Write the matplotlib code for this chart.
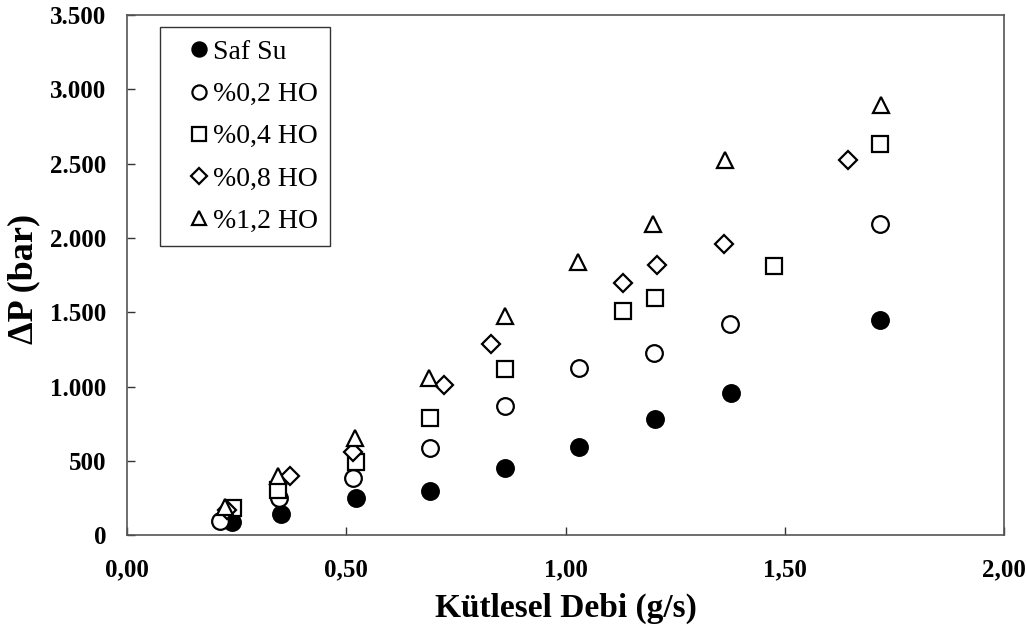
import matplotlib
matplotlib.use("Agg")
import matplotlib.pyplot as plt
from matplotlib.ticker import FuncFormatter, MultipleLocator

plt.rcParams['font.family'] = ['Liberation Serif', 'DejaVu Serif']

# Kütlesel debi (g/s) ve basınç düşümü (bar) ölçümleri
x_saf = [0.24, 0.352, 0.523, 0.690, 0.861, 1.030, 1.203, 1.377, 1.716]
y_saf = [87, 141, 249, 296, 451, 590, 781, 955, 1447]

x_02 = [0.212, 0.347, 0.516, 0.690, 0.861, 1.030, 1.201, 1.374, 1.717]
y_02 = [97, 249, 384, 585, 868, 1124, 1225, 1420, 2093]

x_04 = [0.242, 0.345, 0.523, 0.690, 0.861, 1.130, 1.203, 1.475, 1.717]
y_04 = [180, 303, 491, 787, 1117, 1508, 1595, 1810, 2631]

x_08 = [0.228, 0.372, 0.516, 0.722, 0.829, 1.130, 1.208, 1.361, 1.644]
y_08 = [172, 397, 559, 1009, 1285, 1696, 1817, 1958, 2524]

x_12 = [0.224, 0.345, 0.520, 0.688, 0.863, 1.028, 1.199, 1.363, 1.719]
y_12 = [190, 400, 653, 1057, 1474, 1837, 2093, 2524, 2894]

labels = ['Saf Su', '%0,2 HO', '%0,4 HO', '%0,8 HO', '%1,2 HO']

fig = plt.figure(figsize=(10.27, 6.34), dpi=100)
ax = fig.add_axes([0.1237, 0.156, 0.854, 0.82])

mk = dict(linestyle='none', markersize=12, markeredgewidth=1.6, markeredgecolor='black')
ax.plot(x_saf, y_saf, marker='o', color='black', label=labels[0], **mk)
ax.plot(x_02, y_02, marker='o', markerfacecolor='white', label=labels[1], **mk)
ax.plot(x_04, y_04, marker='s', markerfacecolor='white', label=labels[2], **mk)
ax.plot(x_08, y_08, marker='D', markerfacecolor='white', label=labels[3],
        **{**mk, 'markersize': 9.5})
ax.plot(x_12, y_12, marker='^', markerfacecolor='white', label=labels[4], **mk)

ax.set_xlim(0, 2.0)
ax.set_ylim(0, 3500)
ax.xaxis.set_major_locator(MultipleLocator(0.5))
ax.yaxis.set_major_locator(MultipleLocator(500))
ax.xaxis.set_major_formatter(FuncFormatter(lambda v, p: f"{v:.2f}".replace('.', ',')))
ax.yaxis.set_major_formatter(FuncFormatter(lambda v, p: f"{int(v):,}".replace(',', '.')))

ax.tick_params(direction='in', length=6, width=1, colors='#333333',
               labelcolor='black', labelsize=18)
ax.tick_params(axis='y', pad=15)
ax.tick_params(axis='x', pad=16.5)
for lab in ax.get_xticklabels() + ax.get_yticklabels():
    lab.set_fontweight('bold')
for sp in ax.spines.values():
    sp.set_color('#555555')
    sp.set_linewidth(1.2)

ax.set_xlabel('Kütlesel Debi (g/s)', fontsize=24, fontweight='bold')
ax.set_ylabel('ΔP (bar)', fontsize=26, fontweight='bold')
ax.xaxis.set_label_coords(0.5, -0.11)
ax.yaxis.set_label_coords(-0.099, 0.492)

leg = ax.legend(loc='upper left', bbox_to_anchor=(0.0376, 0.977), fontsize=20,
                frameon=True, fancybox=False, edgecolor='black', handlelength=1.9,
                handletextpad=-0.45, labelspacing=0.6, borderpad=0.45, markerscale=0.85,
                borderaxespad=0)
leg.get_frame().set_linewidth(1.0)

fig.savefig('out.png', dpi=100)
